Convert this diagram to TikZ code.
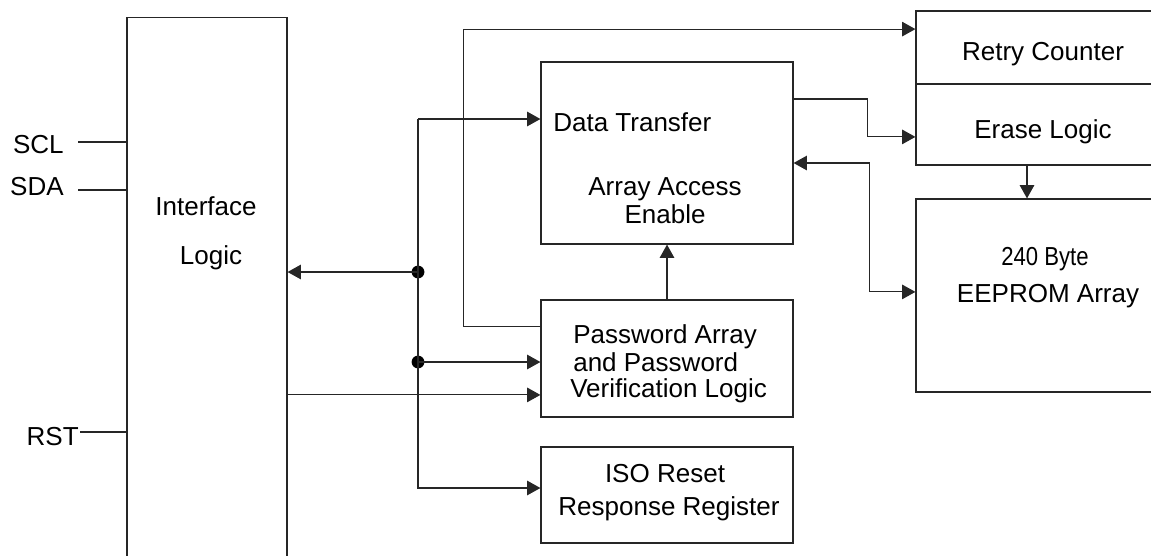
\documentclass[tikz,border=0pt]{standalone}
\usepackage{fontspec}
\setmainfont{Liberation Sans}
\usetikzlibrary{positioning, arrows.meta}

\begin{document}
\begin{tikzpicture}[
    x=0.025cm, y=-0.025cm,
    block/.style={rectangle, draw=black!85, line width=0.8pt, inner sep=0pt},
    lbl/.style={inner sep=0pt, font=\fontsize{18.5}{22}\selectfont},
    wire/.style={draw=black!85, line width=0.8pt},
    conn/.style={wire, -{Triangle[length=3.3mm, width=3.6mm]}},
    dconn/.style={wire, {Triangle[length=3.3mm, width=3.6mm]}-{Triangle[length=3.3mm, width=3.6mm]}},
    dot/.style={circle, fill=black, inner sep=0pt, minimum size=3.2mm}
]
\useasboundingbox (0,0) rectangle (1151,555);
\clip (0,0) rectangle (1151,555);

% Blocks
\node[block, minimum width=4cm, minimum height=14.55cm] (iface) at (207,309) {};
\node[block, minimum width=6.3cm, minimum height=4.55cm] (dtx) at (667,153) {};
\node[block, minimum width=6.3cm, minimum height=2.925cm] (pwd) at (667,358.5) {};
\node[block, minimum width=6.3cm, minimum height=2.4cm] (iso) at (667,495) {};
\node[block, minimum width=6.35cm, minimum height=1.825cm] (retry) at (1043,47.5) {};
\node[block, minimum width=6.35cm, minimum height=2.025cm] (erase) at (1043,124.5) {};
\node[block, minimum width=6.35cm, minimum height=4.825cm] (eeprom) at (1043,295.5) {};

% Block texts
\node[lbl, anchor=base] (if1) at (206,215) {Interface};
\node[lbl, anchor=base] (if2) at (211,264) {Logic};
\node[lbl, anchor=base west] (dt1) at (553,131) {Data Transfer};
\node[lbl, anchor=base] (dt2) at (665,195) {Array Access};
\node[lbl, anchor=base] (dt3) at (665,223) {Enable};
\node[lbl, anchor=base west] (pw1) at (573,343) {Password Array};
\node[lbl, anchor=base west] (pw2) at (573,371) {and Password};
\node[lbl, anchor=base west] (pw3) at (570,397) {Verification Logic};
\node[lbl, anchor=base] (is1) at (665,482) {ISO Reset};
\node[lbl, anchor=base] (is2) at (669,515) {Response Register};
\node[lbl, anchor=base] (rt1) at (1043,60) {Retry Counter};
\node[lbl, anchor=base] (er1) at (1043,138) {Erase Logic};
\node[lbl, anchor=base] (ee1) at (1045,265) {\scalebox{0.85}[1]{240 Byte}};
\node[lbl, anchor=base] (ee2) at (1048,302) {EEPROM Array};

% Pins
\node[lbl, anchor=base east] (scl) at (64,153) {SCL};
\node[lbl, anchor=base east] (sda) at (64,195) {SDA};
\node[lbl, anchor=base east] (rst) at (79,445) {RST};
\coordinate (sclo) at ([xshift=0.35cm, yshift=0.05cm]scl.east);
\coordinate (sdao) at ([xshift=0.35cm, yshift=-0.1cm]sda.east);
\coordinate (rsto) at ([xshift=0.03cm, yshift=0.1cm]rst.east);
\draw[wire] (sclo) -- (sclo -| iface.west);
\draw[wire] (sdao) -- (sdao -| iface.west);
\draw[wire] (rsto) -- (rsto -| iface.west);

% Bus from interface logic
\node[dot] (d1) at (418,272) {};
\node[dot] (d2) at (418,362) {};
\coordinate (btop) at (418,119);
\coordinate (bbot) at ([yshift=0.175cm]iso.west);
\draw[conn] (btop) -- (btop -| dtx.west);
\draw[conn] (btop) |- (bbot);
\draw[conn] (d1.center) -- (d1.center -| iface.east);
\draw[conn] (d2.center) -- (d2.center -| pwd.west);
\coordinate (pwdin) at ([yshift=-0.91cm]pwd.west);
\draw[conn] (pwdin -| iface.east) -- (pwdin);

% Password logic outputs
\coordinate (pwdout) at ([yshift=0.79cm]pwd.west);
\coordinate (rtin) at ([yshift=0.46cm]retry.west);
\draw[conn] (pwdout) -- ++(-77,0) |- (rtin);
\draw[conn] (pwd.north) -- (dtx.south);

% Data transfer outputs
\coordinate (dto) at ([yshift=1.35cm]dtx.east);
\coordinate (erin) at ([yshift=-0.31cm]erase.west);
\draw[conn] (dto) -- ++(74,0) |- (erin);
\coordinate (dta) at ([yshift=-0.25cm]dtx.east);
\coordinate (eein) at ([yshift=0.09cm]eeprom.west);
\draw[dconn] (dta) -- ++(76,0) |- (eein);
\coordinate (dn) at (1027,0);
\draw[conn] (erase.south -| dn) -- (eeprom.north -| dn);

\end{tikzpicture}
\end{document}
